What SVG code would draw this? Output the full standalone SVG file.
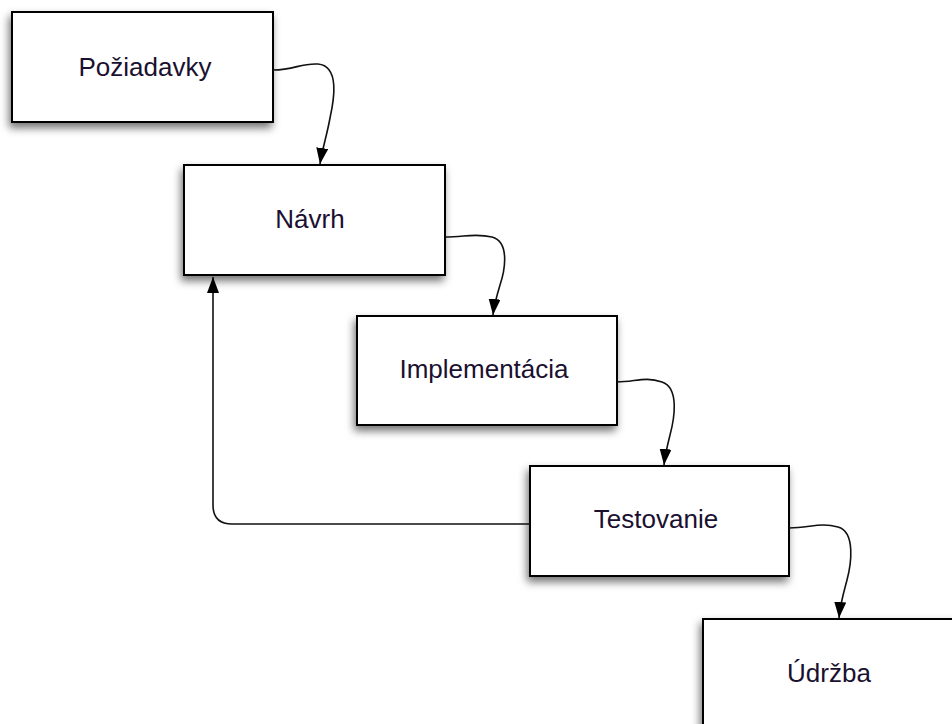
<svg xmlns="http://www.w3.org/2000/svg" width="952" height="724" viewBox="0 0 952 724">
<style>
.box{fill:#fff;stroke:#000;stroke-width:2;filter:url(#sh)}
.lbl{font-family:"Liberation Sans",Arial,sans-serif;font-size:26px;fill:#1a1030;text-anchor:middle}
.con{fill:none;stroke:#111;stroke-width:1.6;marker-end:url(#arr)}
</style>
<defs>
<filter id="sh" x="-20%" y="-20%" width="140%" height="150%">
<feDropShadow dx="-2" dy="5" stdDeviation="4" flood-color="#000" flood-opacity="0.55"/>
</filter>
<marker id="arr" viewBox="0 0 16 12" refX="16" refY="6" markerWidth="16" markerHeight="12" markerUnits="userSpaceOnUse" orient="auto">
<path d="M0,0 L16,6 L0,12 z" fill="#000"/>
</marker>
</defs>
<g id="n1"><rect class="box" x="12" y="12" width="261" height="110"/><text class="lbl" x="145" y="76">Požiadavky</text></g>
<g id="n2"><rect class="box" x="184" y="165" width="261" height="110"/><text class="lbl" x="310" y="228">Návrh</text></g>
<g id="n3"><rect class="box" x="357" y="316" width="260" height="109"/><text class="lbl" x="484" y="378">Implementácia</text></g>
<g id="n4"><rect class="box" x="530" y="466" width="259" height="110"/><text class="lbl" x="656" y="528">Testovanie</text></g>
<g id="n5"><rect class="box" x="703" y="619" width="261" height="112"/><text class="lbl" x="829" y="682">Údržba</text></g>
<g id="connectors">
<path class="con" d="M273,70 C295,70 300,63 318,64 C340,66 334,100 330,118 C327,135 322,150 320,164"/>
<path class="con" d="M445,237 C465,237 475,233 492,237 C510,242 505,270 500,285 C497,295 494,305 493,315"/>
<path class="con" d="M617,382 C635,382 645,376 662,382 C680,388 674,420 670,435 C667,447 665,455 664,465"/>
<path class="con" d="M789,528 C810,528 820,522 838,527 C856,532 851,565 847,580 C843,595 840,605 839,618"/>
<path class="con" d="M530,524 L232,524 Q213,524 213,505 L213,277"/>
</g>
</svg>
